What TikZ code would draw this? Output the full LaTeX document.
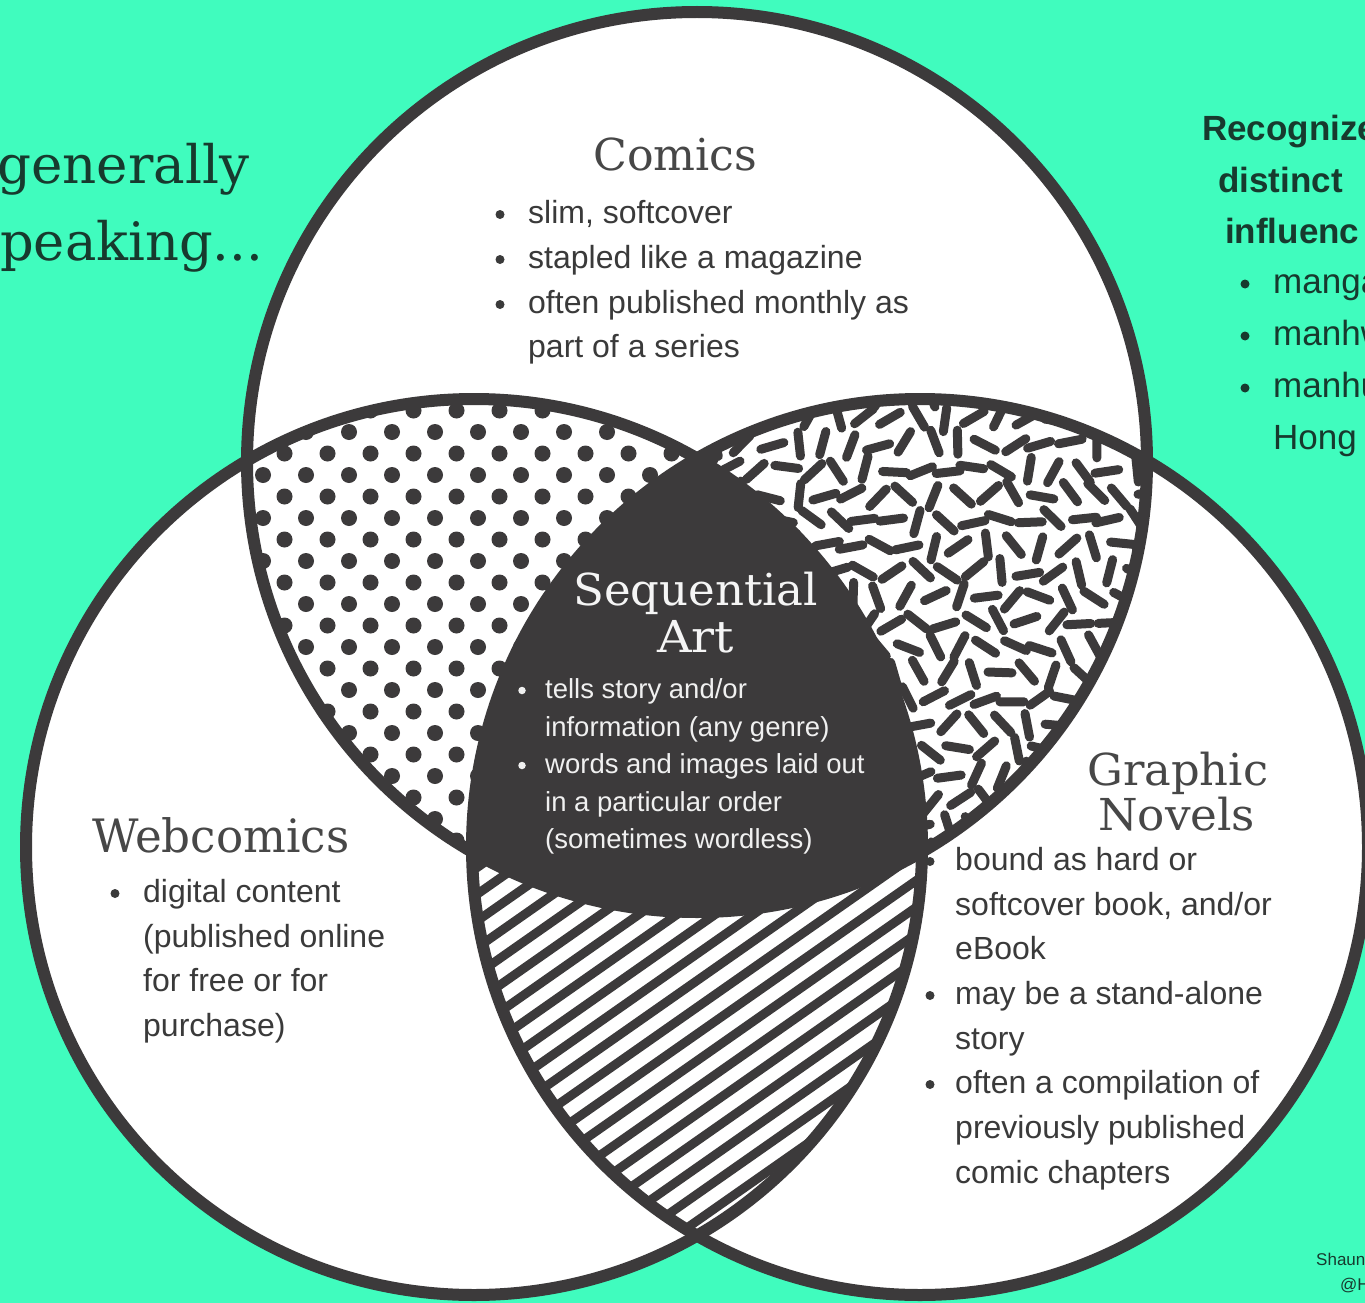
\documentclass[tikz,border=0pt]{standalone}
\usepackage{fontspec}
\setmainfont{Liberation Sans}
\newfontfamily\slab{DejaVu Serif}
\usepackage{graphicx}
\definecolor{bg}{HTML}{40FCBE}
\definecolor{ink}{HTML}{3C3A3B}
\definecolor{txt}{HTML}{3A3A3A}
\definecolor{ttlc}{HTML}{474747}
\definecolor{deep}{HTML}{173A2E}
\newcommand\ttl[3]{\resizebox{#1}{\height}{\slab\fontsize{#2}{#2}\selectfont #3}}
\begin{document}
\begin{tikzpicture}[x=1pt,y=-1pt,
  ring/.style={draw=ink,line width=12pt},
  sprinkle/.style={draw=ink,line width=9pt,line cap=round},
  stripe/.style={draw=ink,line width=9pt},
  body/.style={font=\fontsize{32}{38}\selectfont,text=txt,inner sep=0pt,anchor=base west},
  ctrtxt/.style={font=\fontsize{27.5}{33}\selectfont,text=white!94!black,inner sep=0pt,anchor=base west},
  ttlnode/.style={text=ttlc,inner sep=0pt,anchor=base west},
  side/.style={font=\fontsize{35}{40}\selectfont,text=deep,inner sep=0pt,anchor=base west},
  bul/.style={circle,fill=txt,inner sep=0pt,minimum size=9pt},
  wbul/.style={circle,fill=white!94!black,inner sep=0pt,minimum size=7.5pt}]
\useasboundingbox (0,0) rectangle (1365,1303);
\fill[bg] (0,0) rectangle (1365,1303);
\coordinate (cC) at (697,462);
\coordinate (cW) at (474,847);
\coordinate (cG) at (920,847);
% white discs
\fill[white] (cC) circle[radius=450pt];
\fill[white] (cW) circle[radius=448pt];
\fill[white] (cG) circle[radius=448pt];
% dots: Comics & Webcomics only
\begin{scope}[even odd rule]
  \clip (cC) circle[radius=450pt];
  \clip (cW) circle[radius=448pt];
  \clip (cG) circle[radius=448pt] (-20,-20) rectangle (1400,1400);
  \foreach \j in {0,...,23}{
    \foreach \i in {-4,...,8}{
      \fill[ink] ({392+43*\i+21.5*mod(\j,2)},{389+21.5*\j}) circle[radius=8pt];
    }
  }
\end{scope}
% sprinkles: Comics & Graphic Novels only
\begin{scope}[even odd rule]
  \clip (cC) circle[radius=450pt];
  \clip (cG) circle[radius=448pt];
  \clip (cW) circle[radius=448pt] (-20,-20) rectangle (1400,1400);
  \pgfmathsetseed{4217}
  \foreach \j in {0,...,19}{
    \foreach \i in {0,...,18}{
      \pgfmathsetmacro\cx{690+27*\i+13.5*mod(\j,2)+3*rand}
      \pgfmathsetmacro\cy{393+25.5*\j+3*rand}
      \pgfmathsetmacro\an{180*rnd}
      \draw[sprinkle] ({\cx+12*cos(\an)},{\cy+12*sin(\an)}) -- ({\cx-12*cos(\an)},{\cy-12*sin(\an)});
    }
  }
\end{scope}
% stripes: Webcomics & Graphic Novels only
\begin{scope}[even odd rule]
  \clip (cW) circle[radius=448pt];
  \clip (cG) circle[radius=448pt];
  \clip (cC) circle[radius=450pt] (-20,-20) rectangle (1400,1400);
  \foreach \k in {-20,...,25}{
    \draw[stripe] (400,{1055+26.7*\k}) -- (1000,{635+26.7*\k});
  }
\end{scope}
% centre
\begin{scope}
  \clip (cC) circle[radius=450pt];
  \clip (cW) circle[radius=448pt];
  \fill[ink] (cG) circle[radius=448pt];
\end{scope}
% outlines
\draw[ring] (cC) circle[radius=450pt];
\draw[ring] (cW) circle[radius=448pt];
\draw[ring] (cG) circle[radius=448pt];

% side texts
\node[ttlnode,text=deep] (gen) at (-3,183) {\ttl{252pt}{53}{generally}};
\node[ttlnode,text=deep] (spk) at (0,260) {\ttl{263pt}{53}{peaking...}};
\node[side,font=\fontsize{35}{40}\selectfont\bfseries] (r1) at (1202,140) {Recognize};
\node[side,font=\fontsize{35}{40}\selectfont\bfseries] (r2) at (1218,192) {distinct};
\node[side,font=\fontsize{35}{40}\selectfont\bfseries] (r3) at (1225,243) {influenc};
\node[bul,fill=deep] (rb1) at (1245,284) {};
\node[bul,fill=deep] (rb2) at (1245,336) {};
\node[bul,fill=deep] (rb3) at (1245,388) {};
\node[side] (r4) at (1273,293) {manga};
\node[side] (r5) at (1273,345) {manhwa};
\node[side] (r6) at (1273,397) {manhua};
\node[side] (r7) at (1273,449) {Hong};
\node[side,font=\fontsize{17}{20}\selectfont] (s1) at (1316,1265) {Shaun};
\node[side,font=\fontsize{17}{20}\selectfont] (s2) at (1340,1290) {@H};

% Comics
\node[ttlnode] (tC) at (593,170) {\ttl{164pt}{44}{Comics}};
\node[bul] (cb1) at (500,214.5) {};
\node[bul] (cb2) at (500,259.5) {};
\node[bul] (cb3) at (500,304.5) {};
\node[body] (c1) at (528,223) {slim, softcover};
\node[body] (c2) at (528,268) {stapled like a magazine};
\node[body] (c3) at (528,313) {often published monthly as};
\node[body] (c4) at (528,357) {part of a series};

% Sequential Art
\node[ttlnode,text=white!96!black] (tS) at (573,605) {\ttl{245pt}{44}{Sequential}};
\node[ttlnode,text=white!96!black] (tA) at (657,652) {\ttl{77pt}{44}{Art}};
\node[wbul] (sb1) at (522,690.5) {};
\node[wbul] (sb2) at (522,765.5) {};
\node[ctrtxt] (s1l) at (545,698) {tells story and/or};
\node[ctrtxt] (s2l) at (545,736) {information (any genre)};
\node[ctrtxt] (s3l) at (545,773) {words and images laid out};
\node[ctrtxt] (s4l) at (545,811) {in a particular order};
\node[ctrtxt] (s5l) at (545,848) {(sometimes wordless)};

% Webcomics
\node[ttlnode] (tW) at (92,852) {\ttl{257pt}{46}{Webcomics}};
\node[bul] (wb1) at (115,893.5) {};
\node[body] (w1) at (143,902) {digital content};
\node[body] (w2) at (143,947) {(published online};
\node[body] (w3) at (143,991) {for free or for};
\node[body] (w4) at (143,1036) {purchase)};

% Graphic Novels
\node[ttlnode] (tG) at (1087,785) {\ttl{181pt}{44}{Graphic}};
\node[ttlnode] (tN) at (1098,830) {\ttl{157pt}{44}{Novels}};
\node[bul] (gb1) at (930,861.5) {};
\node[bul] (gb2) at (930,995.5) {};
\node[bul] (gb3) at (930,1084.5) {};
\node[body] (g1) at (955,870) {bound as hard or};
\node[body] (g2) at (955,915) {softcover book, and/or};
\node[body] (g3) at (955,959) {eBook};
\node[body] (g4) at (955,1004) {may be a stand-alone};
\node[body] (g5) at (955,1049) {story};
\node[body] (g6) at (955,1093) {often a compilation of};
\node[body] (g7) at (955,1138) {previously published};
\node[body] (g8) at (955,1183) {comic chapters};
\end{tikzpicture}
\end{document}
